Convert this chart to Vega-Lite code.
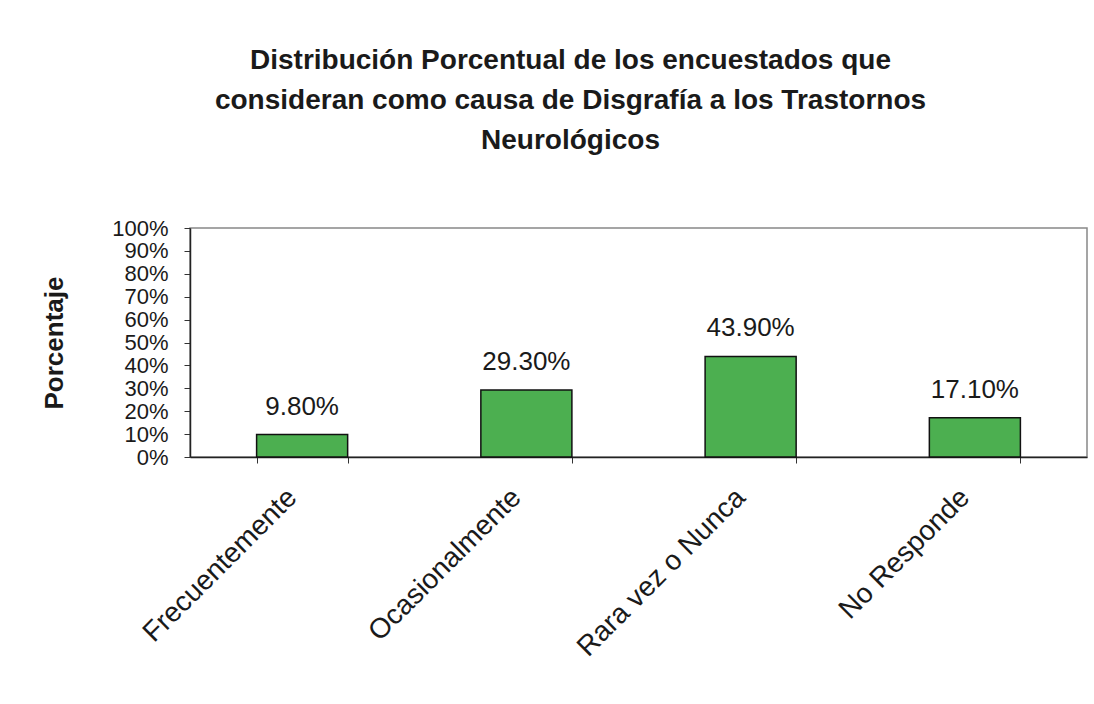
{
  "$schema": "https://vega.github.io/schema/vega-lite/v6.json",
  "autosize": "none",
  "width": 897,
  "height": 229,
  "padding": {"left": 190, "top": 228, "right": 7, "bottom": 247},
  "background": "white",
  "title": {
    "text": ["Distribución Porcentual de los encuestados que", "consideran como causa de  Disgrafía a los Trastornos", "Neurológicos"],
    "font": "Liberation Sans",
    "fontSize": 28,
    "fontWeight": "bold",
    "color": "#1a1a1a",
    "lineHeight": 40,
    "anchor": "middle",
    "dx": -68,
    "offset": 62
  },
  "data": {
    "values": [
      {"categoria": "Frecuentemente", "porcentaje": 0.098},
      {"categoria": "Ocasionalmente", "porcentaje": 0.293},
      {"categoria": "Rara vez o Nunca", "porcentaje": 0.439},
      {"categoria": "No Responde", "porcentaje": 0.171}
    ]
  },
  "encoding": {
    "x": {
      "field": "categoria",
      "type": "nominal",
      "sort": null,
      "scale": {"paddingInner": 0.594, "paddingOuter": 0.297},
      "axis": {
        "title": null,
        "labelAngle": -45,
        "labelAlign": "right",
        "labelBaseline": "middle",
        "labelFont": "Liberation Sans",
        "labelFontSize": 28,
        "labelColor": "#1a1a1a",
        "labelPadding": 30,
        "labelOffset": -10,
        "labelLimit": 0,
        "tickBand": "extent",
        "tickSize": 6,
        "tickColor": "#333",
        "domainColor": "#222",
        "domainWidth": 1.5
      }
    },
    "y": {
      "field": "porcentaje",
      "type": "quantitative",
      "scale": {"domain": [0, 1], "nice": false},
      "axis": {
        "title": "Porcentaje",
        "titleFont": "Liberation Sans",
        "titleFontSize": 26,
        "titleFontWeight": "bold",
        "titleColor": "#1a1a1a",
        "titlePadding": 44,
        "values": [0, 0.1, 0.2, 0.3, 0.4, 0.5, 0.6, 0.7, 0.8, 0.9, 1],
        "format": ".0%",
        "labelFont": "Liberation Sans",
        "labelFontSize": 22,
        "labelColor": "#1a1a1a",
        "labelOverlap": false,
        "labelPadding": 16,
        "tickSize": 6,
        "tickColor": "#333",
        "domainColor": "#222",
        "domainWidth": 1.5,
        "grid": false
      }
    }
  },
  "layer": [
    {
      "mark": {"type": "bar", "color": "#4caf50", "stroke": "#111", "strokeWidth": 1.5}
    },
    {
      "mark": {"type": "text", "baseline": "alphabetic", "dy": -20, "font": "Liberation Sans", "fontSize": 26, "color": "#1a1a1a"},
      "encoding": {
        "text": {"field": "porcentaje", "type": "quantitative", "format": ".2%"}
      }
    }
  ],
  "config": {
    "view": {"stroke": "#888", "strokeWidth": 1.5}
  }
}
